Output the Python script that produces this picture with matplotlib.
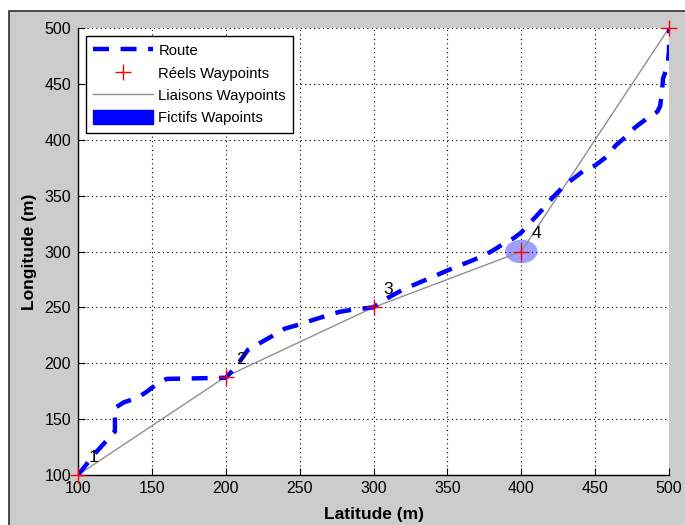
import matplotlib
matplotlib.use("Agg")
import matplotlib.pyplot as plt
from matplotlib.patches import Ellipse, Rectangle, Patch
from matplotlib.lines import Line2D

plt.rcParams['font.family'] = ['Liberation Sans', 'DejaVu Sans']

# Waypoints actually flown through
waypoint_x = [100, 200, 300, 400, 500]
waypoint_y = [100, 188, 250, 300, 500]
waypoint_labels = ['1', '2', '3', '4']

# Simulated route followed by the vehicle
route_x = [100, 112, 125, 125, 131, 140, 146, 153, 160, 200,
           207, 215, 231, 240, 248, 262, 277, 286, 300,
           305, 320, 336, 350, 365, 374, 381, 388, 395, 400,
           409, 416, 421, 430, 443, 450, 458, 464, 472, 477, 486,
           492, 494, 495, 496, 499, 500, 500]
route_y = [100, 120, 139, 160, 165, 169, 174, 181, 186, 187,
           197, 212, 224, 231, 234, 240, 246, 248, 250,
           255, 266, 275, 283, 291, 296, 301, 307, 312, 317,
           330, 340, 348, 360, 373, 377, 385, 395, 404, 411, 420,
           425, 430, 440, 455, 466, 480, 500]

# Fictitious waypoint
fict_x, fict_y = 400, 300
fict_w, fict_h = 22, 21

x_ticks = [100, 150, 200, 250, 300, 350, 400, 450, 500]
y_ticks = [100, 150, 200, 250, 300, 350, 400, 450, 500]

ROUTE_DASH = (0, (3.6, 2.6))

W, H = 685, 525
fig = plt.figure(figsize=(W / 100, H / 100), dpi=100, facecolor='white')

# Window background panel with dark frame
frame = Rectangle((8.5 / W, -0.05), 1.2, (H - 10.5) / H + 0.05,
                  transform=fig.transFigure, facecolor='#cccccc',
                  edgecolor='#3c3c3c', linewidth=1.3, zorder=-10)
fig.patches.append(frame)

ax = fig.add_axes([78 / W, (H - 475) / H, (669 - 78) / W, (475 - 28) / H])
ax.set_facecolor('white')

ax.add_patch(Ellipse((fict_x, fict_y), fict_w, fict_h, facecolor='blue',
                     alpha=0.38, edgecolor='none', zorder=1))

ax.plot(waypoint_x, waypoint_y, color='#909090', linewidth=1.0, zorder=2)
ax.plot(route_x, route_y, color='blue', linewidth=3.2,
        linestyle=ROUTE_DASH, dash_capstyle='butt', zorder=3)
ax.plot(waypoint_x, waypoint_y, linestyle='none', marker='+', color='red',
        markersize=11, markeredgewidth=1.0, zorder=4, clip_on=False)

for lx, ly, lab in zip(waypoint_x, waypoint_y, waypoint_labels):
    ax.text(lx + 7, ly + 9, lab, fontsize=12.5, color='black',
            ha='left', va='bottom', zorder=5)

ax.set_xlim(100, 500)
ax.set_ylim(100, 500)
ax.set_xticks(x_ticks)
ax.set_yticks(y_ticks)
ax.tick_params(direction='in', length=5, width=0.8, labelsize=11.5,
               colors='black', pad=4)
ax.tick_params(axis='y', pad=5)
ax.grid(True, linestyle=(0, (1, 3)), color='black', linewidth=0.8)
ax.set_axisbelow(True)
for side in ('top', 'right'):
    ax.spines[side].set_visible(False)
for side in ('left', 'bottom'):
    ax.spines[side].set_linewidth(1.0)

ax.set_xlabel('Latitude (m)', fontsize=12.5, fontweight='bold', labelpad=8)
ax.set_ylabel('Longitude (m)', fontsize=12.5, fontweight='bold', labelpad=5)

handles = [
    Line2D([], [], color='blue', linewidth=3.2, linestyle=ROUTE_DASH,
           dash_capstyle='butt'),
    Line2D([], [], linestyle='none', marker='+', color='red',
           markersize=11, markeredgewidth=1.0),
    Line2D([], [], color='#909090', linewidth=1.0),
    Patch(facecolor='blue', edgecolor='blue'),
]
labels = ['Route', 'Réels Waypoints', 'Liaisons Waypoints', 'Fictifs Wapoints']
leg = ax.legend(handles, labels, loc='upper left',
                bbox_to_anchor=(0.0135, 0.982), fontsize=10.75,
                frameon=True, fancybox=False, framealpha=1,
                edgecolor='black', handlelength=4.0, handleheight=1.0,
                handletextpad=0.35, labelspacing=0.5, borderpad=0.5,
                borderaxespad=0)
leg.get_frame().set_linewidth(1.0)

fig.savefig('out.png', dpi=100, facecolor=fig.get_facecolor())
